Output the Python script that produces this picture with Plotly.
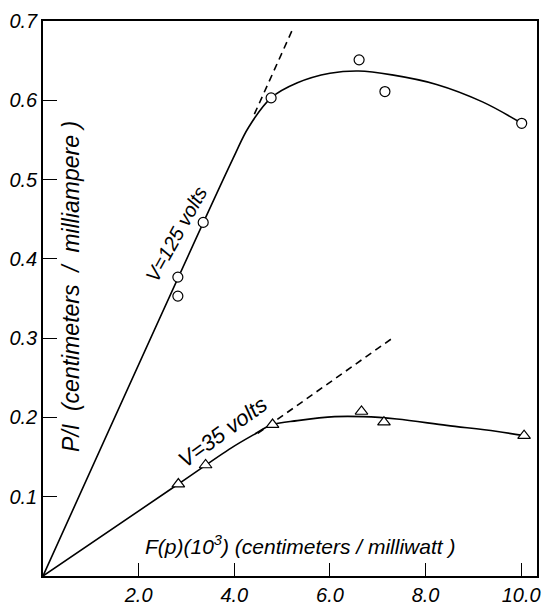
import plotly.graph_objects as go

# ---- data ----
# V = 125 volts (circles)
x125 = [2.82, 2.82, 3.35, 4.77, 6.61, 7.15, 10.01]
y125 = [0.377, 0.353, 0.446, 0.603, 0.651, 0.611, 0.571]
# fitted curve, V = 125 volts
cx125 = [0.0, 3.97, 4.30, 4.77, 5.32, 6.00, 6.60, 7.30, 8.23, 9.19, 10.01]
cy125 = [0.0, 0.526, 0.566, 0.603, 0.622, 0.634, 0.637, 0.632, 0.620, 0.598, 0.571]
# dashed extension of initial slope, V = 125 volts
dx125 = [4.42, 5.22]
dy125 = [0.5825, 0.6896]

# V = 35 volts (triangles)
x35 = [2.83, 3.40, 4.80, 6.66, 7.13, 10.06]
y35 = [0.116, 0.140, 0.191, 0.2075, 0.194, 0.177]
cx35 = [0.0, 2.83, 3.94, 4.40, 4.80, 5.32, 6.10, 6.70, 7.40, 8.44, 9.47, 10.06]
cy35 = [0.0, 0.116, 0.1616, 0.178, 0.191, 0.196, 0.201, 0.201, 0.198, 0.190, 0.1825, 0.177]
dx35 = [4.49, 7.33]
dy35 = [0.180, 0.301]

xtick_vals = [2, 4, 6, 8, 10]
xtick_text = ["2.0", "4.0", "6.0", "8.0", "10.0"]
ytick_vals = [0.1, 0.2, 0.3, 0.4, 0.5, 0.6, 0.7]
ytick_text = ["0.1", "0.2", "0.3", "0.4", "0.5", "0.6", "0.7"]

FONT = "Liberation Sans, Arial, sans-serif"

fig = go.Figure()

for cx, cy in [(cx125, cy125), (cx35, cy35)]:
    fig.add_trace(go.Scatter(x=cx, y=cy, mode="lines",
                             line=dict(color="black", width=1.6, shape="spline", smoothing=1.0),
                             hoverinfo="skip", showlegend=False))
for dx, dy in [(dx125, dy125), (dx35, dy35)]:
    fig.add_trace(go.Scatter(x=dx, y=dy, mode="lines",
                             line=dict(color="black", width=1.6, dash="7px,5px"),
                             hoverinfo="skip", showlegend=False))

fig.add_trace(go.Scatter(x=x125, y=y125, mode="markers",
                         marker=dict(symbol="circle", size=10, color="white",
                                     line=dict(color="black", width=1.2)),
                         showlegend=False))
fig.add_trace(go.Scatter(x=x35, y=y35, mode="markers",
                         marker=dict(symbol="triangle-up", size=11, color="white",
                                     line=dict(color="black", width=1.2)),
                         showlegend=False))

fig.update_xaxes(range=[0, 10.33], showgrid=False, zeroline=False,
                 showline=True, linecolor="black", linewidth=1.5, mirror=True,
                 ticks="inside", ticklen=13, tickwidth=1.3, tickcolor="black",
                 tickvals=xtick_vals, ticktext=xtick_text, ticklabeloverflow="allow",
                 tickfont=dict(family=FONT, size=20, color="black", style="italic"))
fig.update_yaxes(range=[0, 0.7], showgrid=False, zeroline=False,
                 showline=True, linecolor="black", linewidth=1.5, mirror=True,
                 ticks="inside", ticklen=14, tickwidth=1.3, tickcolor="black",
                 tickvals=ytick_vals, ticktext=ytick_text, ticklabeloverflow="allow",
                 tickfont=dict(family=FONT, size=20, color="black", style="italic"))

fig.add_annotation(xref="paper", yref="paper", x=0.058, y=0.522,
                   text="P/I  (centimeters  /  milliampere )", showarrow=False,
                   textangle=-90, xanchor="center", yanchor="middle",
                   font=dict(family=FONT, size=23, color="black", style="italic"))
fig.add_annotation(xref="paper", yref="paper", x=0.52, y=0.055,
                   text="F(p)(10<sup>3</sup>) (centimeters / milliwatt )", showarrow=False,
                   xanchor="center", yanchor="middle",
                   font=dict(family=FONT, size=21, color="black", style="italic"))
fig.add_annotation(x=2.79, y=0.431, text="V=125 volts", showarrow=False,
                   textangle=-61, xanchor="center", yanchor="middle",
                   font=dict(family=FONT, size=20, color="black", style="italic"))
fig.add_annotation(x=3.745, y=0.181, text="V=35 volts", showarrow=False,
                   textangle=-36, xanchor="center", yanchor="middle",
                   font=dict(family=FONT, size=22, color="black", style="italic"))

fig.update_layout(width=542, height=607,
                  margin=dict(l=43, r=1, t=21, b=26),
                  plot_bgcolor="white", paper_bgcolor="white")

fig.write_html("out.html")
